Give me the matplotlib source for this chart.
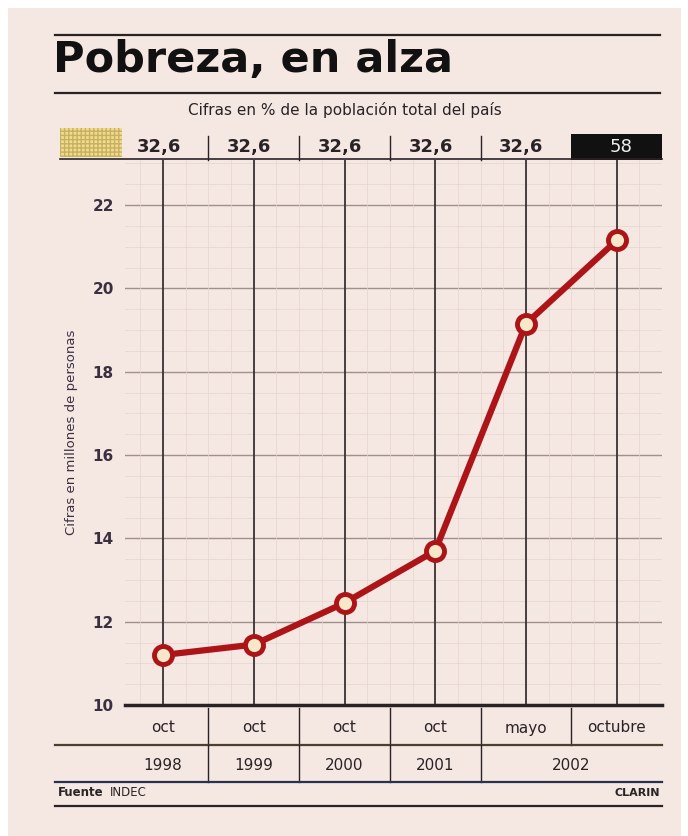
import numpy as np
import matplotlib.pyplot as plt
from matplotlib.lines import Line2D
from matplotlib.patches import Rectangle
from matplotlib.transforms import blended_transform_factory

# --- Data ---
months = ['oct', 'oct', 'oct', 'oct', 'mayo', 'octubre']
years = ['1998', '1999', '2000', '2001', '2002']
pct_labels = ['32,6', '32,6', '32,6', '32,6', '32,6', '58']
poor_millions = [11.2, 11.45, 12.45, 13.7, 19.15, 21.15]
yticks = [10, 12, 14, 16, 18, 20, 22]

paper = '#f5e7e1'
ink = '#2a2326'
red = '#ad1418'

fig = plt.figure(figsize=(6.88, 8.36), dpi=100)
fig.patch.set_facecolor('white')

# paper background
fig.add_artist(Rectangle((0.012, 0.0), 0.978, 0.99, transform=fig.transFigure,
                         facecolor=paper, edgecolor='none', zorder=-10))

W, H = 688, 836
def fx(px): return px / W
def fy(py): return 1 - py / H

ax = fig.add_axes([fx(125), fy(705), fx(662) - fx(125), fy(160) - fy(705)])
ax.set_facecolor('none')
x = np.arange(len(months))
ax.set_xlim(-0.42, 5.5)
ax.set_ylim(10, 23.08)

# faint minor grid of the paper
ax.set_yticks(np.arange(10, 23.1, 0.5), minor=True)
ax.set_xticks(np.arange(-0.25, 5.5, 0.25), minor=True)
ax.grid(which='minor', color='#e6d5ce', lw=0.5)
ax.tick_params(which='minor', length=0)

# main grid
for v in yticks[1:]:
    ax.axhline(v, color='#a09090', lw=1.0, zorder=1)
for xi in x:
    ax.axvline(xi, color=ink, lw=1.2, zorder=2)

ax.plot(x, poor_millions, color=red, lw=4.5, zorder=4, solid_joinstyle='round')
ax.plot(x, poor_millions, 'o', ms=13, mfc='#f6e8c8', mec=red, mew=3.5, zorder=5)

ax.set_yticks(yticks)
ax.set_yticklabels([str(v) for v in yticks], fontsize=11, fontweight='bold', color='#3a3040')
ax.set_xticks([])
ax.tick_params(axis='y', length=0, pad=8)
for s in ['top', 'right', 'left']:
    ax.spines[s].set_visible(False)
ax.spines['bottom'].set_color(ink)
ax.spines['bottom'].set_linewidth(2.5)
ax.set_ylabel('Cifras en millones de personas', fontsize=9.5, color='#3a3040', labelpad=10)

# --- Header ---
fig.add_artist(Line2D([fx(55), fx(660)], [fy(35), fy(35)], color=ink, lw=1.6))
fig.text(fx(53), fy(60), 'Pobreza, en alza', fontsize=31, fontweight='heavy',
         color='#111111', va='center', ha='left', family='DejaVu Sans')
fig.add_artist(Line2D([fx(55), fx(660)], [fy(93), fy(93)], color=ink, lw=1.6))
fig.text(fx(345), fy(110), 'Cifras en % de la población total del país', fontsize=11,
         color=ink, ha='center', va='center')

# percentage row
tr = blended_transform_factory(ax.transData, fig.transFigure)
fig.add_artist(Rectangle((fx(60), fy(157)), fx(122) - fx(60), fy(128) - fy(157),
                         transform=fig.transFigure, facecolor='#eedc90', edgecolor='#c9b060',
                         lw=0, hatch='++++'))
fig.add_artist(Line2D([fx(60), fx(662)], [fy(159), fy(159)], color=ink, lw=1.2))
for i, lab in enumerate(pct_labels):
    if i == 5:
        fig.add_artist(Rectangle((4.5, fy(160)), 1.0, fy(134) - fy(160), transform=tr,
                                 facecolor='#111111', edgecolor='none', clip_on=False))
        fig.text(i + 0.05, fy(147), lab, transform=tr, fontsize=13, color='#eeeeee',
                 ha='center', va='center')
    else:
        fig.text(i - 0.05, fy(147), lab, transform=tr, fontsize=13, fontweight='bold',
                 color=ink, ha='center', va='center')
    if 0 < i < 5:
        fig.add_artist(Line2D([i - 0.5, i - 0.5], [fy(160), fy(136)], transform=tr,
                              color=ink, lw=1.0))

# --- Bottom table ---
for i, m in enumerate(months):
    fig.text(i, fy(728), m, transform=tr, fontsize=11, color=ink, ha='center', va='center')
for i in range(1, 6):
    fig.add_artist(Line2D([i - 0.5, i - 0.5], [fy(708), fy(745)], transform=tr,
                          color=ink, lw=1.0))
fig.add_artist(Line2D([fx(55), fx(662)], [fy(745), fy(745)], color='#4a4030', lw=1.6))
for i, yr in enumerate(years[:4]):
    fig.text(i, fy(766), yr, transform=tr, fontsize=11, color=ink, ha='center', va='center')
fig.text(4.5, fy(766), years[4], transform=tr, fontsize=11, color=ink, ha='center', va='center')
for i in range(1, 5):
    fig.add_artist(Line2D([i - 0.5, i - 0.5], [fy(745), fy(782)], transform=tr,
                          color=ink, lw=1.0))
fig.add_artist(Line2D([fx(55), fx(662)], [fy(782), fy(782)], color='#2a3050', lw=1.6))

fig.text(fx(58), fy(793), 'Fuente', fontsize=8.5, fontweight='heavy', color=ink, va='center')
fig.text(fx(110), fy(793), 'INDEC', fontsize=8.5, color=ink, va='center')
fig.text(fx(660), fy(793), 'CLARIN', fontsize=8, fontweight='heavy', color=ink,
         va='center', ha='right')
fig.add_artist(Line2D([fx(55), fx(662)], [fy(806), fy(806)], color=ink, lw=1.6))

fig.savefig('out.png', dpi=100, facecolor=fig.get_facecolor())
